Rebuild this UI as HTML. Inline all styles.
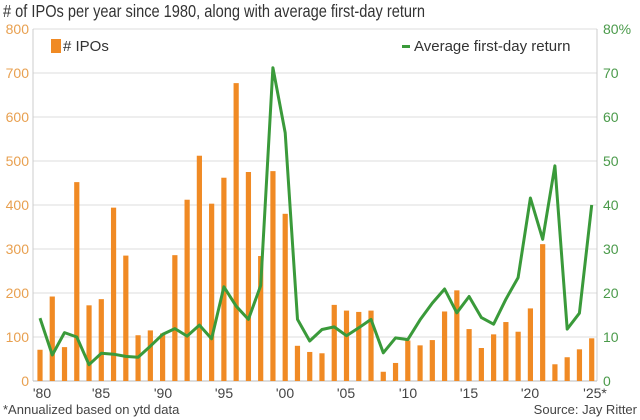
<!DOCTYPE html>
<html><head><meta charset="utf-8"><style>
html,body{margin:0;padding:0;background:#fff;}
svg{display:block;font-family:"Liberation Sans",sans-serif;}
</style></head><body>
<svg id="s" width="640" height="420" xmlns="http://www.w3.org/2000/svg">
<text x="3" y="17" font-size="17.5" fill="#333" textLength="422" lengthAdjust="spacingAndGlyphs"># of IPOs per year since 1980, along with average first-day return</text>
<g stroke="#ddd" stroke-width="1">
<line x1="33" x2="597" y1="29" y2="29"/><line x1="33" x2="597" y1="73" y2="73"/><line x1="33" x2="597" y1="117" y2="117"/><line x1="33" x2="597" y1="161" y2="161"/><line x1="33" x2="597" y1="205" y2="205"/><line x1="33" x2="597" y1="249" y2="249"/><line x1="33" x2="597" y1="293" y2="293"/><line x1="33" x2="597" y1="337" y2="337"/>
</g>
<line x1="33" x2="33" y1="29" y2="381" stroke="#ccc"/>
<line x1="597" x2="597" y1="29" y2="381" stroke="#ccc"/>
<line x1="33" x2="597" y1="381" y2="381" stroke="#bbb"/>
<g font-size="14" fill="#e8a050" text-anchor="end">
<text x="29" y="34">800</text><text x="29" y="78">700</text><text x="29" y="122">600</text><text x="29" y="166">500</text><text x="29" y="210">400</text><text x="29" y="254">300</text><text x="29" y="298">200</text><text x="29" y="342">100</text><text x="29" y="386">0</text>
</g>
<g font-size="14" fill="#4a9a4a">
<text x="603" y="34">80%</text><text x="603" y="78">70</text><text x="603" y="122">60</text><text x="603" y="166">50</text><text x="603" y="210">40</text><text x="603" y="254">30</text><text x="603" y="298">20</text><text x="603" y="342">10</text><text x="603" y="386">0</text>
</g>
<g font-size="14" fill="#444" text-anchor="middle">
<text x="42" y="398">'80</text><text x="101" y="398">'85</text><text x="163" y="398">'90</text><text x="224" y="398">'95</text><text x="285" y="398">'00</text><text x="346" y="398">'05</text><text x="408" y="398">'10</text><text x="469" y="398">'15</text><text x="530" y="398">'20</text><text x="595" y="398">'25*</text>
</g>
<g id="bars" fill="#f08a24"></g>
<polyline id="ln" fill="none" stroke="#3a9a3a" stroke-width="3" stroke-linejoin="round"/>
<rect x="51" y="39" width="10" height="14" fill="#f08a24"/>
<text x="63" y="51" font-size="15" fill="#333"># IPOs</text>
<rect x="402" y="45" width="8" height="3" fill="#3a9a3a"/>
<text x="414" y="51" font-size="15" fill="#333">Average first-day return</text>
<text x="3" y="414" font-size="13" fill="#444">*Annualized based on ytd data</text>
<text x="637" y="414" font-size="13" fill="#444" text-anchor="end">Source: Jay Ritter</text>
</svg>
<script>
var ipo=[71,192,77,452,172,186,394,285,104,115,108,286,412,512,403,462,677,475,284,477,380,80,66,63,173,160,157,160,21,41,92,81,93,158,206,118,75,106,134,112,165,311,38,54,72,97];
var ret=[14.3,5.9,11,10,3.7,6.3,6.1,5.6,5.4,7.9,10.6,11.9,10.2,12.7,9.6,21.4,17,14,21.7,71.2,56.4,14,9.1,11.7,12.3,10.3,12.1,14.0,6.4,9.8,9.4,13.9,17.7,20.9,15.5,19.2,14.4,12.9,18.6,23.5,41.6,32.2,48.9,11.8,15.4,40];
var ns="http://www.w3.org/2000/svg",g=document.getElementById('bars'),pts=[];
for(var i=0;i<46;i++){var x=40+i*12.26;var h=ipo[i]*0.44;var r=document.createElementNS(ns,'rect');
r.setAttribute('x',x-2.6);r.setAttribute('y',381-h);r.setAttribute('width',5.2);r.setAttribute('height',h);g.appendChild(r);
pts.push(x.toFixed(1)+','+(381-ret[i]*4.4).toFixed(1));}
document.getElementById('ln').setAttribute('points',pts.join(' '));
</script>
</body></html>
